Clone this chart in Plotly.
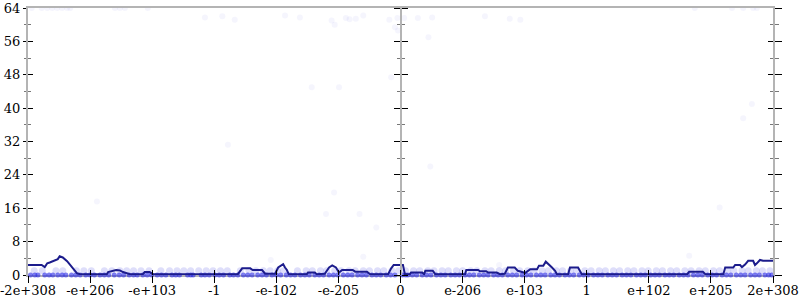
import plotly.graph_objects as go

# x positions are in "tick units": -6 = -2e+308, 0 = 0, 6 = 2e+308
tick_positions = [-6, -5, -4, -3, -2, -1, 0, 1, 2, 3, 4, 5, 6]
tick_labels = ["-2e+308", "-e+206", "-e+103", "-1", "-e-102", "-e-205", "0",
               "e-206", "e-103", "1", "e+102", "e+205", "2e+308"]

# smoothed (running) curve
line_x = [-6.0, -5.78, -5.73, -5.69, -5.65, -5.57, -5.52, -5.49, -5.44, -5.37, -5.34, -5.29,
          -5.24, -5.21, -5.16, -4.73, -4.71, -4.58, -4.52, -4.47, -4.36, -4.15, -4.12, -4.04,
          -3.99, -2.62, -2.55, -2.42, -2.38, -2.23, -2.18, -2.02, -1.97, -1.89, -1.86, -1.83,
          -1.80, -1.51, -1.49, -1.38, -1.35, -1.22, -1.15, -1.10, -1.04, -0.99, -0.94, -0.77,
          -0.73, -0.54, -0.49, -0.20, -0.15, -0.11, 0.04, 0.07, 0.15, 0.17, 0.35, 0.38, 0.40,
          0.52, 0.56, 1.04, 1.06, 1.25, 1.28, 1.38, 1.41, 1.55, 1.60, 1.68, 1.73, 1.84, 1.89,
          2.01, 2.09, 2.20, 2.23, 2.30, 2.34, 2.39, 2.44, 2.49, 2.52, 2.70, 2.73, 2.86, 2.92,
          4.62, 4.65, 4.87, 4.91, 5.20, 5.23, 5.36, 5.39, 5.47, 5.50, 5.55, 5.60, 5.68, 5.71,
          5.74, 5.79, 5.84, 6.0]
line_y = [2.4, 2.4, 1.9, 2.8, 3.0, 3.5, 3.8, 4.5, 4.2, 3.3, 2.7, 1.8,
          1.0, 0.4, 0.2, 0.2, 0.7, 1.2, 1.1, 0.7, 0.2, 0.2, 0.7, 0.7,
          0.2, 0.2, 1.6, 1.6, 1.2, 1.2, 0.3, 0.3, 1.8, 2.6, 1.8, 1.2,
          0.2, 0.2, 0.6, 0.6, 0.2, 0.3, 1.8, 2.3, 1.8, 0.6, 1.2, 1.2,
          0.8, 0.8, 0.2, 0.2, 1.6, 2.4, 2.4, 0.2, 0.2, 0.6, 0.6, 0.2, 1.0,
          1.0, 0.2, 0.2, 1.2, 1.2, 0.9, 0.9, 0.6, 0.6, 0.2, 0.3, 1.8, 1.8, 1.0,
          0.5, 1.4, 1.4, 2.2, 2.2, 3.2, 2.6, 1.8, 1.0, 0.2, 0.2, 1.8, 1.8, 0.2,
          0.2, 0.8, 0.8, 0.2, 0.2, 1.8, 1.8, 2.4, 2.4, 1.9, 2.5, 3.4, 3.4, 2.4,
          2.8, 3.6, 3.4, 3.4]

# dense samples at value 0
band0_x = [-5.96, -5.89, -5.84, -5.73, -5.66, -5.6, -5.52, -5.45, -5.39, -5.3, -5.23, -5.16,
           -5.07, -5.0, -4.93, -4.84, -4.77, -4.7, -4.61, -4.53, -4.46, -4.37, -4.3, -4.24,
           -4.15, -4.08, -4.01, -3.92, -3.85, -3.78, -3.68, -3.62, -3.56, -3.43, -3.38, -3.34,
           -3.21, -3.15, -3.08, -2.99, -2.92, -2.85, -2.75, -2.69, -2.62, -2.53, -2.46, -2.39,
           -2.3, -2.23, -2.16, -2.07, -2.0, -1.93, -1.84, -1.77, -1.7, -1.61, -1.54, -1.47,
           -1.38, -1.31, -1.24, -1.15, -1.08, -1.01, -0.92, -0.85, -0.78, -0.69, -0.62, -0.55,
           -0.46, -0.39, -0.32, -0.23, -0.16, -0.09, 0.03, 0.08, 0.12, 0.19, 0.26, 0.35, 0.42,
           0.49, 0.58, 0.65, 0.72, 0.81, 0.88, 0.95, 1.04, 1.11, 1.18, 1.27, 1.34, 1.41, 1.5,
           1.57, 1.64, 1.73, 1.8, 1.87, 1.96, 2.03, 2.1, 2.19, 2.26, 2.33, 2.42, 2.49, 2.56,
           2.65, 2.72, 2.79, 2.88, 2.95, 3.02, 3.11, 3.18, 3.25, 3.34, 3.41, 3.48, 3.57, 3.64,
           3.71, 3.8, 3.87, 3.94, 4.03, 4.1, 4.17, 4.26, 4.33, 4.4, 4.49, 4.56, 4.63, 4.72,
           4.79, 4.86, 4.95, 5.02, 5.09, 5.18, 5.25, 5.32, 5.41, 5.48, 5.55, 5.64, 5.71, 5.78,
           5.87, 5.93, 5.98]
# dense samples at value 1
band1_x = [-5.9, -5.77, -5.55, -5.44, -5.22, -5.1, -4.98, -4.77, -4.65, -4.52, -4.41, -4.3,
           -4.18, -4.05, -3.86, -3.72, -3.6, -3.49, -3.38, -3.25, -3.13, -3.02, -2.9, -2.79,
           -2.58, -2.44, -2.33, -2.21, -2.1, -1.98, -1.88, -1.66, -1.52, -1.42, -1.29, -1.19,
           -1.06, -0.96, -0.83, -0.73, -0.6, -0.5, -0.37, -0.27, -0.14, -0.03, 0.08, 0.21,
           0.31, 0.44, 0.54, 0.67, 0.77, 0.9, 1.0, 1.13, 1.23, 1.36, 1.46, 1.59, 1.69, 1.82,
           1.92, 2.05, 2.15, 2.28, 2.38, 2.51, 2.61, 2.74, 2.84, 2.97, 3.07, 3.2, 3.3, 3.43,
           3.53, 3.66, 3.76, 3.89, 3.99, 4.12, 4.22, 4.35, 4.45, 4.58, 4.68, 4.81, 4.91, 5.04,
           5.14, 5.27, 5.37, 5.5, 5.6, 5.73, 5.83, 5.95]

# sparse outliers
sparse_x = [-5.94, -5.78, -5.69, -5.61, -5.53, -5.45, -5.37, -5.32, -4.60, -4.52, -4.44, -4.07,
            4.74, 5.34, 5.52, 5.68, 5.74,
            -1.11, -1.06, -0.88, -0.82, -0.72, -0.60, -0.18, -0.09, -0.05, 0.06, -0.04, 0.28,
            0.45, -0.15, -0.99,
            -3.15, -2.87, -2.67, -1.86, -1.62, 0.51, 1.36, 1.76, 1.93, -2.78, -1.43, 0.48,
            -4.89, -1.07, -1.20, -0.66, -0.39, -0.60, -2.09, 1.59, 5.14, 4.65, 5.66, 5.52]
sparse_y = [64, 64, 64, 64, 64, 64, 64, 64, 64, 64, 64, 64,
            64, 64, 64, 64, 64,
            61.0, 60.0, 61.6, 61.3, 61.4, 62.2, 61.2, 59.4, 61.6, 61.6, 58.6, 61.6,
            57.0, 47.4, 45.0,
            61.7, 62.0, 61.2, 62.2, 61.7, 61.7, 62.0, 61.4, 61.2, 31.2, 45.0, 26.0,
            17.6, 19.8, 14.6, 14.6, 11.4, 4.4, 3.6, 2.4, 16.2, 4.6, 41.0, 37.6]

FONT = "DejaVu Serif"
GREY = "#b4b4b4"

fig = go.Figure()
fig.add_trace(go.Scatter(x=band1_x, y=[1] * len(band1_x), mode="markers", cliponaxis=False,
                         marker=dict(size=7, color="rgba(90,90,230,0.2)"),
                         hoverinfo="skip", showlegend=False))
fig.add_trace(go.Scatter(x=band0_x, y=[0] * len(band0_x), mode="markers", cliponaxis=False,
                         marker=dict(size=5, color="rgba(40,40,230,0.6)"),
                         hoverinfo="skip", showlegend=False))
fig.add_trace(go.Scatter(x=sparse_x, y=sparse_y, mode="markers",
                         marker=dict(size=6, color="rgba(110,110,230,0.07)"),
                         hoverinfo="skip", showlegend=False))
fig.add_trace(go.Scatter(x=line_x, y=line_y, mode="lines",
                         line=dict(color="#1c1c8c", width=2),
                         hoverinfo="skip", showlegend=False))
# empty traces to bind overlay axes
for ya in ["y2", "y3", "y4", "y5", "y6"]:
    fig.add_trace(go.Scatter(x=[], y=[], xaxis="x", yaxis=ya, showlegend=False))
for xa in ["x2", "x3"]:
    fig.add_trace(go.Scatter(x=[], y=[], xaxis=xa, yaxis="y", showlegend=False))

common_y = dict(range=[0, 64], tickmode="linear", tick0=0, dtick=8, showgrid=False,
                zeroline=False, automargin=False, fixedrange=True)
common_x = dict(range=[-6, 6], tickmode="array", tickvals=tick_positions,
                showgrid=False, zeroline=False, automargin=False, fixedrange=True)

fig.update_layout(
    width=800, height=300,
    margin=dict(l=28, r=27, t=8, b=25),
    plot_bgcolor="white", paper_bgcolor="white",
    font=dict(family=FONT, size=13, color="black"),
    xaxis=dict(**common_x, ticktext=tick_labels, ticks="outside", ticklen=2,
               tickcolor="rgba(0,0,0,0)", showline=True, linecolor=GREY,
               linewidth=2, mirror=True, layer="below traces",
               ticklabeloverflow="allow",
               tickfont=dict(family=FONT, size=13)),
    xaxis2=dict(**common_x, overlaying="x", anchor="y", ticks="inside", ticklen=5,
                tickcolor="black", showticklabels=False, showline=False),
    xaxis3=dict(**common_x, overlaying="x", anchor="y", ticks="outside", ticklen=7,
                tickcolor="black", showticklabels=False, showline=False),
    yaxis=dict(**common_y, ticks="outside", ticklen=3, tickcolor="black",
               showline=True, linecolor=GREY, linewidth=2, layer="below traces",
               tickfont=dict(family=FONT, size=13),
               minor=dict(ticks="outside", ticklen=2, tickcolor="#777", dtick=4, tick0=0)),
    yaxis2=dict(**common_y, overlaying="y", side="left", anchor="x", ticks="inside",
                ticklen=5, tickcolor="black", showticklabels=False, showline=False,
                minor=dict(ticks="inside", ticklen=3, tickcolor="#777", dtick=4, tick0=0)),
    yaxis3=dict(**common_y, overlaying="y", side="right", anchor="x", ticks="outside",
                ticklen=7, tickcolor="black", showticklabels=False, showline=True,
                linecolor=GREY, linewidth=2,
                minor=dict(ticks="outside", ticklen=4, tickcolor="#777", dtick=4, tick0=0)),
    yaxis4=dict(**common_y, overlaying="y", side="right", anchor="x", ticks="inside",
                ticklen=5, tickcolor="black", showticklabels=False, showline=False,
                minor=dict(ticks="inside", ticklen=3, tickcolor="#777", dtick=4, tick0=0)),
    yaxis5=dict(**common_y, overlaying="y", side="left", anchor="free", position=0.5,
                ticks="outside", ticklen=6, tickcolor="black", showticklabels=False,
                showline=True, linecolor=GREY, linewidth=2,
                minor=dict(ticks="outside", ticklen=3, tickcolor="#777", dtick=4, tick0=0)),
    yaxis6=dict(**common_y, overlaying="y", side="right", anchor="free", position=0.5,
                ticks="outside", ticklen=6, tickcolor="black", showticklabels=False,
                showline=False,
                minor=dict(ticks="outside", ticklen=3, tickcolor="#777", dtick=4, tick0=0)),
)

fig.write_html("out.html")
